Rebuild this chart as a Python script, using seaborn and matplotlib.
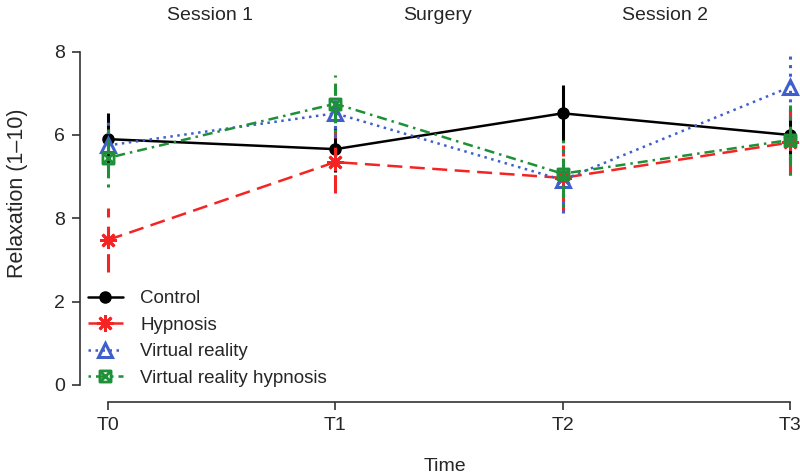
import numpy as np
import pandas as pd
import matplotlib
matplotlib.use('Agg')
import matplotlib.pyplot as plt
from matplotlib.path import Path
import seaborn as sns

# values (mean and half-length of the error bar)
times = ['T0', 'T1', 'T2', 'T3']
groups = ['Control', 'Hypnosis', 'Virtual reality', 'Virtual reality hypnosis']
control = [5.9, 5.66, 6.52, 6.0]
control_err = [0.62, 0.55, 0.68, 0.6]
hypnosis = [3.48, 5.35, 4.97, 5.82]
hypnosis_err = [0.77, 0.75, 0.8, 0.78]
vr = [5.75, 6.52, 4.92, 7.15]
vr_err = [0.55, 0.56, 0.8, 0.77]
vrh = [5.45, 6.75, 5.07, 5.88]
vrh_err = [0.7, 0.68, 0.8, 0.85]
phases = ['Session 1', 'Surgery', 'Session 2']
ytick_labels = ['0', '2', '8', '6', '8']

means = [control, hypnosis, vr, vrh]
errs = [control_err, hypnosis_err, vr_err, vrh_err]
df = pd.DataFrame({
    'group': np.repeat(groups, len(times)),
    'time': np.tile(np.arange(len(times)), len(groups)),
    'value': np.concatenate(means),
    'err': np.concatenate(errs),
})

# square with a cross (R pch 7)
box_x = Path([(-1, -1), (1, -1), (1, 1), (-1, 1), (-1, -1), (-1, -1), (1, 1), (-1, 1), (1, -1)],
             [Path.MOVETO, Path.LINETO, Path.LINETO, Path.LINETO, Path.CLOSEPOLY,
              Path.MOVETO, Path.LINETO, Path.MOVETO, Path.LINETO])

styles = {
    'Control': dict(color='black', ls='-', marker='o', ms=8, mfc='black', mew=1),
    'Hypnosis': dict(color='#F42424', ls=(0, (6, 3)), marker=(8, 2, 0), ms=12, mfc='#F42424', mew=2),
    'Virtual reality': dict(color='#3F5FCC', ls=(0, (1, 1.8)), marker='^', ms=10, mfc='none', mew=2.2),
    'Virtual reality hypnosis': dict(color='#1E9038', ls=(0, (1, 2, 4, 2)), marker=box_x, ms=8, mfc='none', mew=2),
}

sns.set_style('ticks')
plt.rcParams['font.family'] = ['Liberation Sans', 'DejaVu Sans']

fig = plt.figure(figsize=(8, 4.76), dpi=100)
ax = fig.add_axes([80 / 800, 1 - 402 / 476, 720 / 800, 362 / 476])

for g in groups:
    st = styles[g]
    sub = df[df.group == g]
    ax.vlines(sub.time, sub.value - sub.err, sub.value + sub.err, colors=st['color'],
              linestyles=[st['ls']], lw=2.2)
    sns.lineplot(data=sub, x='time', y='value', ax=ax, color=st['color'], linestyle=st['ls'],
                 lw=1.8, marker=st['marker'], markersize=st['ms'], markerfacecolor=st['mfc'],
                 markeredgecolor=st['color'], markeredgewidth=st['mew'], label=g)

ax.set_xlim(-0.123, 3.044)
ax.set_ylim(-0.41, 8.28)
ax.set_xticks(range(len(times)))
ax.set_xticklabels(times)
ax.set_yticks(range(0, 9, 2))
ax.set_yticklabels(ytick_labels)
for s in ['top', 'right']:
    ax.spines[s].set_visible(False)
ax.spines['left'].set_bounds(0, 8)
ax.spines['bottom'].set_bounds(0, 3)
for s in ['left', 'bottom']:
    ax.spines[s].set_color('#333333')
    ax.spines[s].set_linewidth(1.2)
ax.tick_params(length=6, width=1.2, color='#333333', labelsize=14, pad=5)
ax.set_xlabel('Time', fontsize=14)
ax.xaxis.set_label_coords(0.507, -0.155)
ax.set_ylabel('Relaxation (1\u201310)', fontsize=15.5)
ax.yaxis.set_label_coords(-0.072, 0.577)

for i, p in enumerate(phases):
    ax.text(i + 0.45, 1.069, p, transform=ax.get_xaxis_transform(), ha='center', va='center',
            fontsize=14)

ax.legend(loc='upper left', bbox_to_anchor=(0.0, 0.33), frameon=False, fontsize=13.5,
          handlelength=1.9, handletextpad=0.9, labelspacing=0.5, borderaxespad=0.0)

fig.savefig('out.png', dpi=100)
